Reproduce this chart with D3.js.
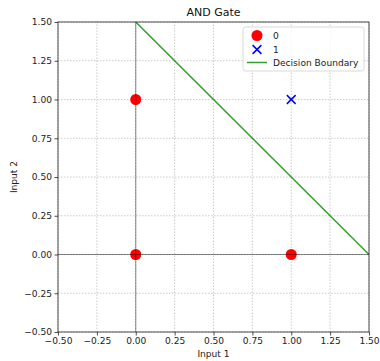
<!DOCTYPE html>
<html>
<head>
<meta charset="utf-8">
<script src="https://cdn.jsdelivr.net/npm/d3@7"></script>
<style>
  html, body { margin: 0; padding: 0; background: #fff; }
  svg { display: block; font-family: "DejaVu Sans", sans-serif; }
</style>
</head>
<body>
<svg id="chart" width="380" height="361"></svg>
<script>
// AND gate truth table: inputs and outputs
const input1 = [0, 0, 1, 1];
const input2 = [0, 1, 0, 1];
const outputs = [0, 0, 0, 1];

// Decision boundary x1 + x2 = 1.5, sampled at its end points
const boundaryX = [0, 1.5];
const boundaryY = [1.5, 0];

const tickValues = [-0.5, -0.25, 0, 0.25, 0.5, 0.75, 1.0, 1.25, 1.5];
const domain = [-0.5, 1.5];

const svg = d3.select("#chart");
const margin = { left: 58, top: 22, right: 11, bottom: 29 };
const W = 380, H = 361;
const x = d3.scaleLinear().domain(domain).range([margin.left, W - margin.right]);
const y = d3.scaleLinear().domain(domain).range([H - margin.bottom, margin.top]);

svg.append("defs").append("clipPath").attr("id", "plot-clip")
  .append("rect")
  .attr("x", x(domain[0])).attr("y", y(domain[1]))
  .attr("width", x(domain[1]) - x(domain[0]))
  .attr("height", y(domain[0]) - y(domain[1]));

// Grid
const grid = svg.append("g").attr("stroke", "#b0b0b0").attr("stroke-width", 0.8)
  .attr("stroke-dasharray", "1.5,1.5").attr("opacity", 0.8);
grid.selectAll(".gx").data(tickValues).join("line")
  .attr("x1", d => x(d)).attr("x2", d => x(d))
  .attr("y1", y(domain[0])).attr("y2", y(domain[1]));
grid.selectAll(".gy").data(tickValues).join("line")
  .attr("y1", d => y(d)).attr("y2", d => y(d))
  .attr("x1", x(domain[0])).attr("x2", x(domain[1]));

const plot = svg.append("g").attr("clip-path", "url(#plot-clip)");

// Class 0 points
const idx = d3.range(outputs.length);
plot.selectAll("circle.c0").data(idx.filter(i => outputs[i] === 0)).join("circle")
  .attr("cx", i => x(input1[i])).attr("cy", i => y(input2[i]))
  .attr("r", 5.5).attr("fill", "#ff0000");

// Class 1 points
const cross = d3.symbol().type(d3.symbolX).size(52);
plot.selectAll("path.c1").data(idx.filter(i => outputs[i] === 1)).join("path")
  .attr("transform", i => `translate(${x(input1[i])},${y(input2[i])})`)
  .attr("d", cross).attr("fill", "none").attr("stroke", "#0000ff").attr("stroke-width", 1.5);

// Decision boundary
plot.append("path")
  .datum(d3.zip(boundaryX, boundaryY))
  .attr("d", d3.line().x(d => x(d[0])).y(d => y(d[1])))
  .attr("fill", "none").attr("stroke", "#2ca02c").attr("stroke-width", 1.5);

// Zero reference lines
plot.append("line")
  .attr("x1", x(domain[0])).attr("x2", x(domain[1]))
  .attr("y1", y(0)).attr("y2", y(0))
  .attr("stroke", "#000").attr("stroke-opacity", 0.45).attr("stroke-width", 1);
plot.append("line")
  .attr("x1", x(0)).attr("x2", x(0))
  .attr("y1", y(domain[0])).attr("y2", y(domain[1]))
  .attr("stroke", "#000").attr("stroke-opacity", 0.45).attr("stroke-width", 1);

// Axes
const fmt = d3.format(".2f");
const minusFmt = d => fmt(d).replace("-", "\u2212");
const xAxis = svg.append("g").attr("transform", `translate(0,${y(domain[0])})`)
  .call(d3.axisBottom(x).tickValues(tickValues).tickFormat(minusFmt).tickSize(3.5).tickPadding(2.5));
const yAxis = svg.append("g").attr("transform", `translate(${x(domain[0])},0)`)
  .call(d3.axisLeft(y).tickValues(tickValues).tickFormat(minusFmt).tickSize(3.5).tickPadding(2.5));
[xAxis, yAxis].forEach(a => {
  a.select(".domain").remove();
  a.selectAll("text").attr("font-size", 9.1).attr("fill", "#222").attr("font-family", "DejaVu Sans");
  a.selectAll("line").attr("stroke", "#222").attr("stroke-width", 0.8);
});

// Spines
svg.append("rect")
  .attr("x", x(domain[0])).attr("y", y(domain[1]))
  .attr("width", x(domain[1]) - x(domain[0]))
  .attr("height", y(domain[0]) - y(domain[1]))
  .attr("fill", "none").attr("stroke", "#222").attr("stroke-width", 0.8);

// Title and axis labels
const cx = (x(domain[0]) + x(domain[1])) / 2;
const cy = (y(domain[0]) + y(domain[1])) / 2;
svg.append("text").attr("x", cx).attr("y", 16).attr("text-anchor", "middle")
  .attr("font-size", 11).attr("fill", "#111").text("AND Gate");
svg.append("text").attr("x", cx).attr("y", 357).attr("text-anchor", "middle")
  .attr("font-size", 9.1).attr("fill", "#222").text("Input 1");
svg.append("text").attr("transform", `translate(17,${cy}) rotate(-90)`).attr("text-anchor", "middle")
  .attr("font-size", 9.1).attr("fill", "#222").text("Input 2");

// Legend
const legendItems = ["0", "1", "Decision Boundary"];
const lg = svg.append("g").attr("transform", "translate(243,27)");
lg.append("rect").attr("width", 121).attr("height", 44).attr("rx", 2.5)
  .attr("fill", "#fff").attr("fill-opacity", 0.8).attr("stroke", "#d0d0d0").attr("stroke-width", 0.8);
const rowY = [8.5, 22.5, 35.5];
lg.append("circle").attr("cx", 14).attr("cy", rowY[0]).attr("r", 5.5).attr("fill", "#ff0000");
lg.append("path").attr("transform", `translate(14,${rowY[1]})`).attr("d", cross)
  .attr("fill", "none").attr("stroke", "#0000ff").attr("stroke-width", 1.5);
lg.append("line").attr("x1", 4).attr("x2", 24).attr("y1", rowY[2]).attr("y2", rowY[2])
  .attr("stroke", "#2ca02c").attr("stroke-width", 1.5);
lg.selectAll("text.item").data(legendItems).join("text")
  .attr("x", 30).attr("y", (d, i) => rowY[i] + 3.2)
  .attr("font-size", 9.1).attr("fill", "#222").text(d => d);
</script>
</body>
</html>
